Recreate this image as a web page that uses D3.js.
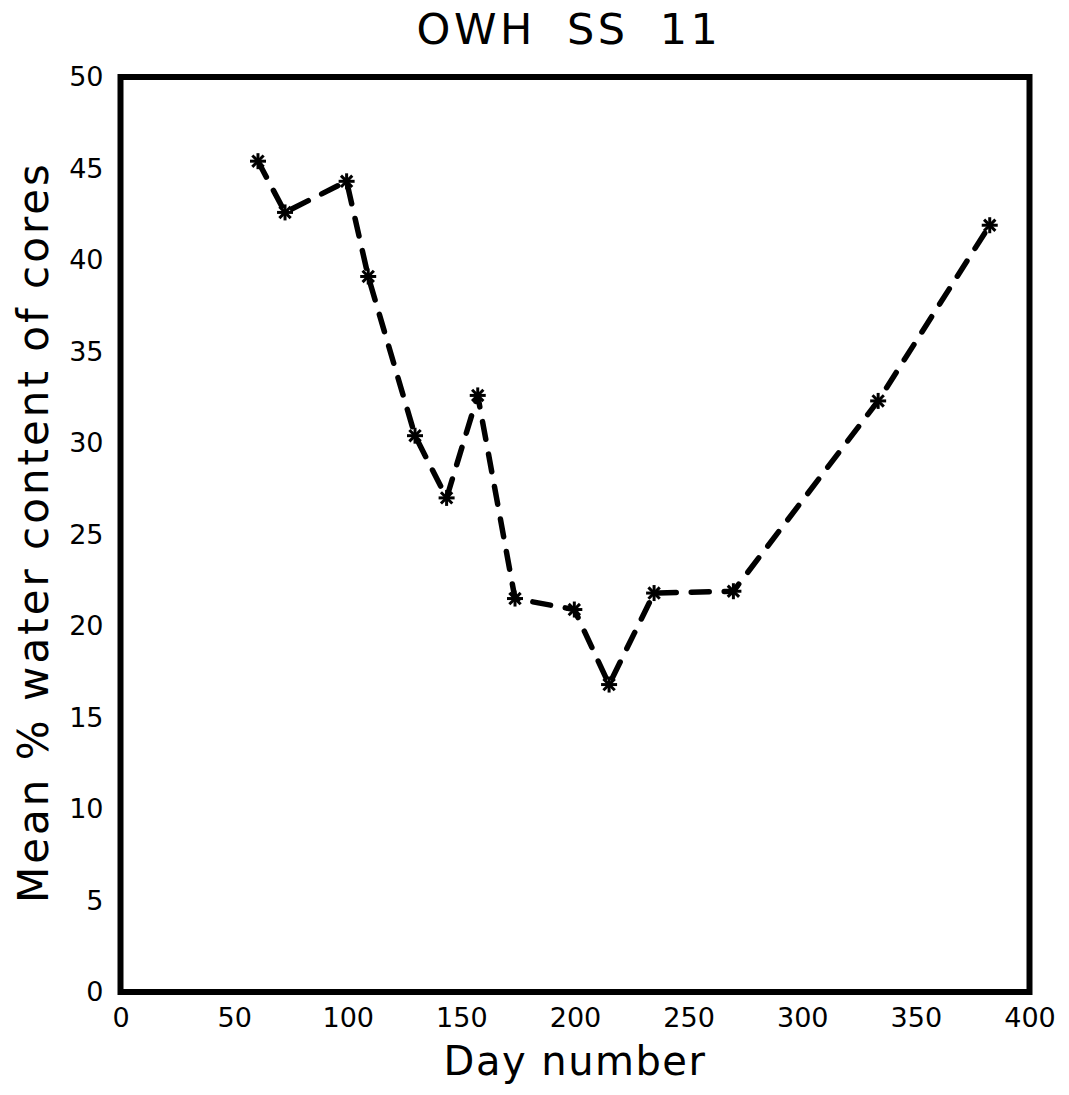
<!DOCTYPE html>
<html>
<head>
<meta charset="utf-8">
<script src="https://cdn.jsdelivr.net/npm/d3@7"></script>
<style>
  html, body { margin: 0; padding: 0; background: #fff; }
  svg { display: block; font-family: "DejaVu Sans", sans-serif; }
</style>
</head>
<body>
<script>
// Sampling days and mean water content of the cores
const days  = [60.5, 72.4, 99.5, 109, 129.6, 143.5, 157.2, 173.6, 199.7, 215, 234.8, 269.7, 333.4, 382.5];
const water = [45.4, 42.6, 44.3, 39.1, 30.4, 27.0, 32.6, 21.5, 20.9, 16.8, 21.8, 21.9, 32.3, 41.9];
const xTicks = [0, 50, 100, 150, 200, 250, 300, 350, 400];
const yTicks = [0, 5, 10, 15, 20, 25, 30, 35, 40, 45, 50];

const W = 1069, H = 1095;
const m = { left: 120.5, right: W - 1029.5, top: 77, bottom: H - 992 };

const svg = d3.select("body").append("svg").attr("width", W).attr("height", H);

const x = d3.scaleLinear().domain([0, 400]).range([m.left, W - m.right]);
const y = d3.scaleLinear().domain([0, 50]).range([H - m.bottom, m.top]);

// Axes (labels only, no tick marks)
const xAxis = svg.append("g")
  .attr("transform", `translate(0,${y(0)})`)
  .call(d3.axisBottom(x).tickValues(xTicks).tickSize(0).tickPadding(16).tickFormat(d3.format("d")));
const yAxis = svg.append("g")
  .attr("transform", `translate(${x(0)},0)`)
  .call(d3.axisLeft(y).tickValues(yTicks).tickSize(0).tickPadding(17).tickFormat(d3.format("d")));
[xAxis, yAxis].forEach(g => {
  g.select(".domain").remove();
  g.selectAll("text").attr("font-size", 27).attr("font-family", "DejaVu Sans, sans-serif").attr("fill", "#000");
});

// Frame
svg.append("rect")
  .attr("x", x(0)).attr("y", y(50))
  .attr("width", x(400) - x(0)).attr("height", y(0) - y(50))
  .attr("fill", "none").attr("stroke", "#000").attr("stroke-width", 6);

const pts = days.map((d, i) => [d, water[i]]);

// Dashed series line
svg.append("path")
  .datum(pts)
  .attr("d", d3.line().x(d => x(d[0])).y(d => y(d[1])))
  .attr("fill", "none")
  .attr("stroke", "#000")
  .attr("stroke-width", 5.5)
  .attr("stroke-linecap", "round")
  .attr("stroke-dasharray", "18,15");

// Asterisk markers
const r = 8;
const star = svg.append("g").selectAll("g").data(pts).join("g")
  .attr("transform", d => `translate(${x(d[0])},${y(d[1])})`);
[0, 45, 90, 135].forEach(a => {
  const rad = a * Math.PI / 180;
  star.append("line")
    .attr("x1", -r * Math.cos(rad)).attr("y1", -r * Math.sin(rad))
    .attr("x2", r * Math.cos(rad)).attr("y2", r * Math.sin(rad))
    .attr("stroke", "#000").attr("stroke-width", 3);
});

// Title
svg.append("text")
  .attr("x", 569).attr("y", 44)
  .attr("text-anchor", "middle")
  .attr("font-size", 43)
  .attr("letter-spacing", 3.5)
  .attr("word-spacing", 14)
  .text("OWH SS 11");

// Axis titles
svg.append("text")
  .attr("x", 575).attr("y", 1075)
  .attr("text-anchor", "middle")
  .attr("font-size", 40)
  .attr("letter-spacing", 1.5)
  .text("Day number");

svg.append("text")
  .attr("transform", "translate(48,532) rotate(-90)")
  .attr("text-anchor", "middle")
  .attr("font-size", 42)
  .attr("letter-spacing", 3)
  .text("Mean % water content of cores");
</script>
</body>
</html>
